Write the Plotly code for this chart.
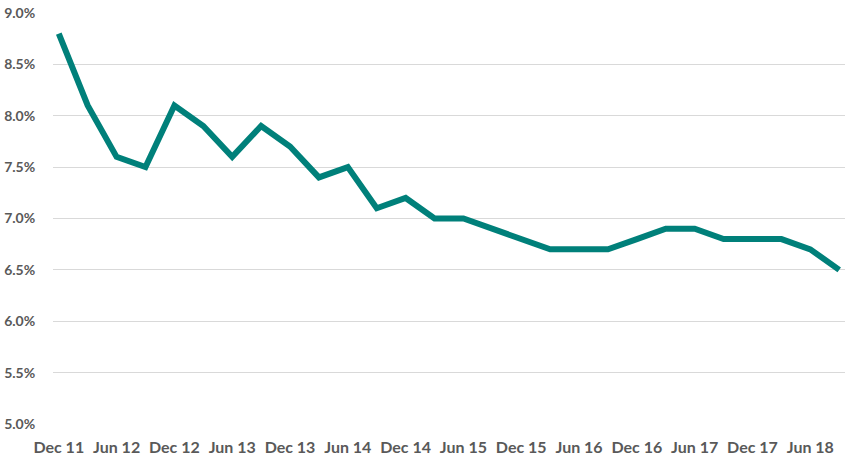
import plotly.graph_objects as go

quarters = ["Dec 11", "Mar 12", "Jun 12", "Sep 12", "Dec 12", "Mar 13", "Jun 13", "Sep 13",
            "Dec 13", "Mar 14", "Jun 14", "Sep 14", "Dec 14", "Mar 15", "Jun 15", "Sep 15",
            "Dec 15", "Mar 16", "Jun 16", "Sep 16", "Dec 16", "Mar 17", "Jun 17", "Sep 17",
            "Dec 17", "Mar 18", "Jun 18", "Sep 18"]
rate = [8.8, 8.1, 7.6, 7.5, 8.1, 7.9, 7.6, 7.9,
        7.7, 7.4, 7.5, 7.1, 7.2, 7.0, 7.0, 6.9,
        6.8, 6.7, 6.7, 6.7, 6.8, 6.9, 6.9, 6.8,
        6.8, 6.8, 6.7, 6.5]
x_ticks = quarters[0::2]
y_ticks = [5.0, 5.5, 6.0, 6.5, 7.0, 7.5, 8.0, 8.5, 9.0]
y_labels = [f"{v:.1f}%" for v in y_ticks]

fig = go.Figure(go.Scatter(
    x=quarters, y=rate, mode="lines",
    line=dict(color="#00807A", width=6),
))

font = dict(family="Lato, Open Sans, sans-serif", size=14.5, color="#595959")
fig.update_layout(
    width=849, height=465,
    margin=dict(l=50, r=4, t=10, b=41),
    plot_bgcolor="white", paper_bgcolor="white",
    showlegend=False,
    font=font,
)
fig.update_xaxes(
    type="category", range=[-0.2, 27.2],
    tickmode="array", tickvals=x_ticks, ticktext=x_ticks,
    showgrid=False, zeroline=False, showline=False,
    ticks="outside", ticklen=9, tickcolor="rgba(0,0,0,0)",
    tickfont=dict(family="Lato, Open Sans, sans-serif", size=16, color="#595959", weight="bold"),
)
fig.update_yaxes(
    range=[5.0, 9.0],
    tickmode="array", tickvals=y_ticks, ticktext=y_labels,
    showgrid=True, gridcolor="#D9D9D9", gridwidth=1,
    zeroline=False, showline=False,
    ticks="outside", ticklen=14, tickcolor="rgba(0,0,0,0)",
    tickfont=dict(family="Lato, Open Sans, sans-serif", size=14, color="#595959", weight="bold"),
)

fig.write_html("out.html")
